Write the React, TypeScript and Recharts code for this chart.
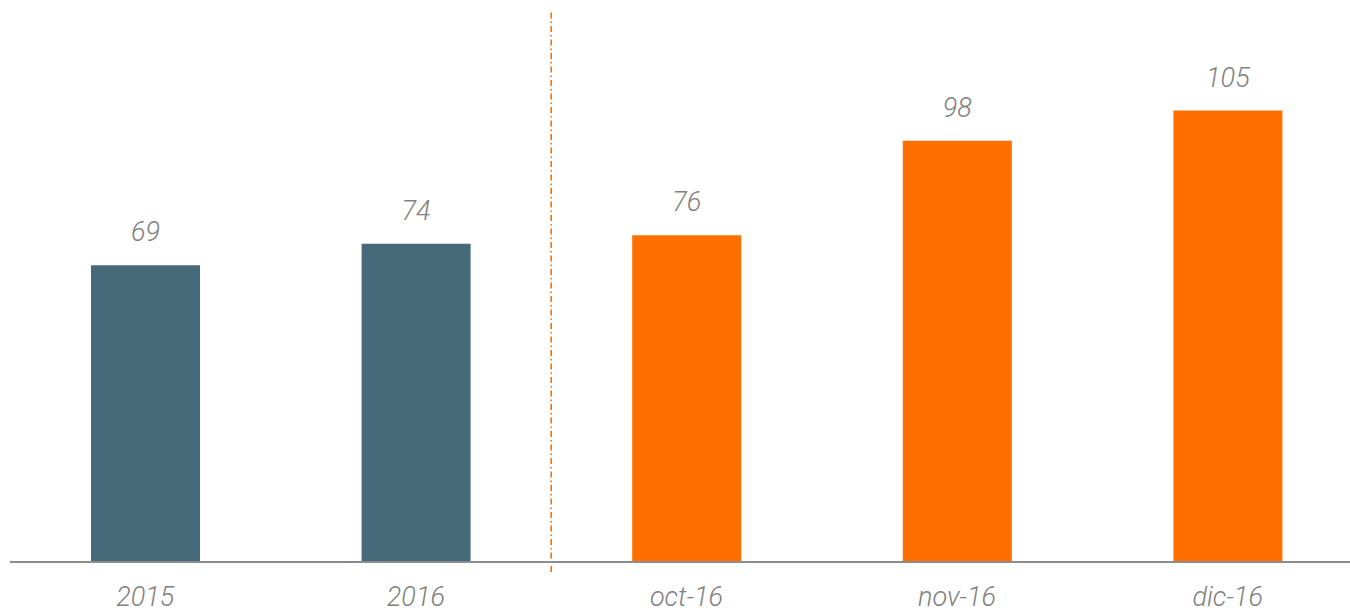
import React from 'react';
import { BarChart, Bar, XAxis, YAxis, Cell, LabelList, ReferenceLine } from 'recharts';

const categories = ['2015', '2016', 'oct-16', 'nov-16', 'dic-16'];
const values = [69, 74, 76, 98, 105];
const barColors = ['#466a79', '#466a79', '#ff6f00', '#ff6f00', '#ff6f00'];
const yMax = 128.4;
const dividerAt = 2;
const dividerRange = [-2.3, yMax];

const data = categories.map((c, i) => ({ name: c, value: values[i], pos: i + 0.5 }));

const FONT = 'Roboto, "DejaVu Sans", sans-serif';

const Tick = (props: any) => {
  const { x, y, payload } = props;
  return (
    <text x={x} y={y + 44} textAnchor="middle" fill="#808080" fontFamily={FONT}
      fontStyle="italic" fontWeight={300} fontSize={27}>
      {payload.value}
    </text>
  );
};

export default function App() {
  return (
    <div style={{ position: 'absolute', left: 0, top: 0, width: 1350, height: 612, overflow: 'hidden', background: '#fff' }}>
      <BarChart width={1363} height={612} data={data} margin={{ top: 10, right: 0, bottom: 0, left: 10 }}>
        <XAxis dataKey="name" height={50} tickLine={false} tickSize={0} tickMargin={0}
          axisLine={{ stroke: '#8c8c8c', strokeWidth: 2 }} tick={<Tick />} interval={0} />
        <XAxis xAxisId="num" dataKey="pos" type="number" domain={[0, categories.length]} hide allowDataOverflow />
        <YAxis hide domain={[0, yMax]} allowDataOverflow />
        <ReferenceLine xAxisId="num" ifOverflow="visible"
          segment={[{ x: dividerAt, y: dividerRange[0] }, { x: dividerAt, y: dividerRange[1] }]}
          stroke="#ff6f00" strokeWidth={1.6} strokeDasharray="6 3 1.5 3" />
        <Bar dataKey="value" barSize={109} isAnimationActive={false}>
          {data.map((d, i) => <Cell key={d.name} fill={barColors[i]} />)}
          <LabelList dataKey="value" position="top" offset={24} fill="#808080"
            fontFamily={FONT} fontStyle="italic" fontWeight={300} fontSize={27} />
        </Bar>
      </BarChart>
    </div>
  );
}
